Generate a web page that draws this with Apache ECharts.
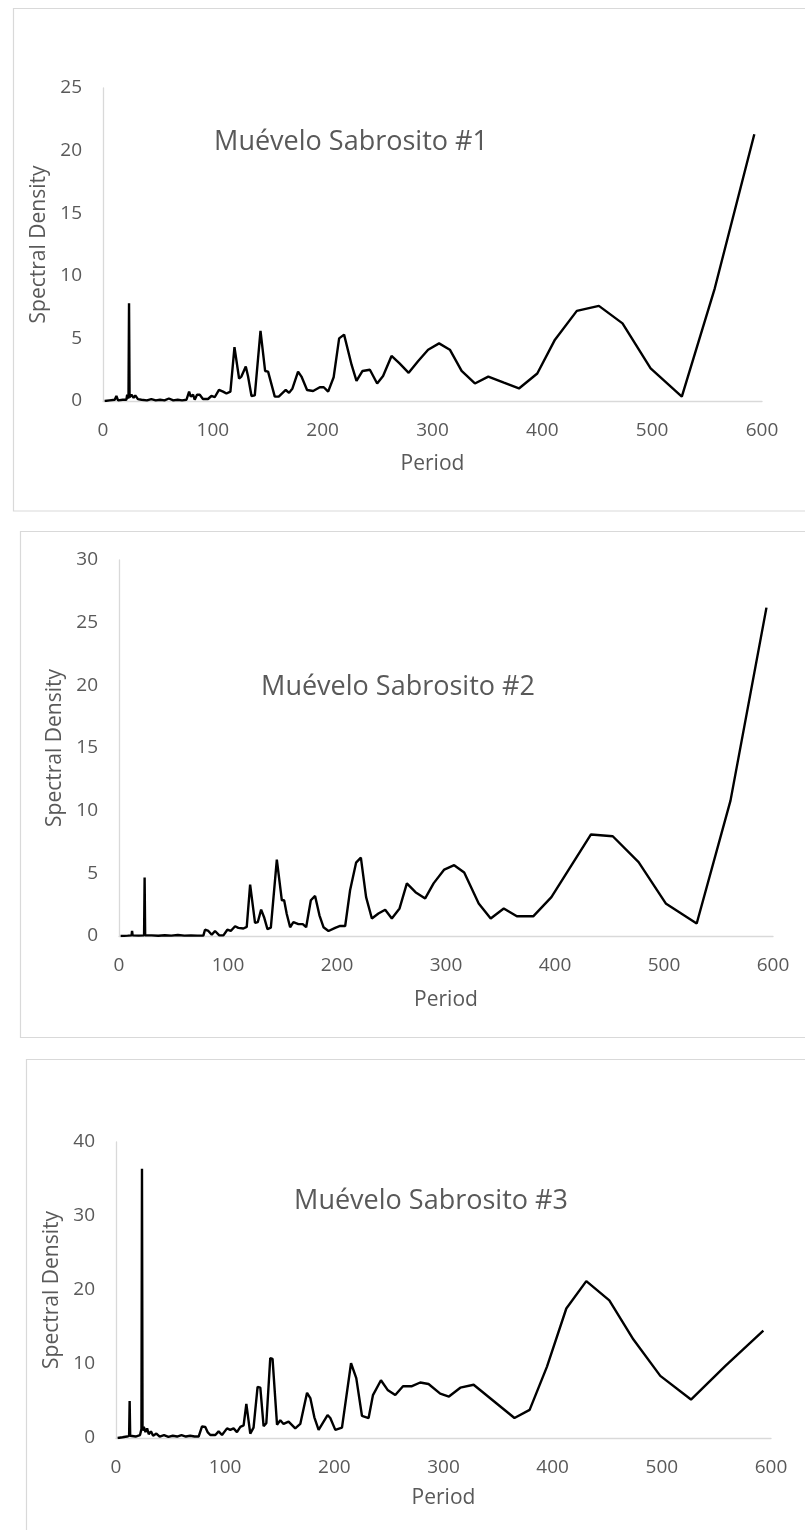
<!DOCTYPE html>
<html>
<head>
<meta charset="utf-8">
<script src="https://cdn.jsdelivr.net/npm/echarts@6/dist/echarts.min.js"></script>
<style>
html,body{margin:0;padding:0;background:#fff;}
#chart{width:805px;height:1530px;}
</style>
</head>
<body>
<div id="chart"></div>
<script>
// ---- data ----
const chartTitles = ['Muévelo Sabrosito #1', 'Muévelo Sabrosito #2', 'Muévelo Sabrosito #3'];
const xAxisTitle = 'Period';
const yAxisTitle = 'Spectral Density';
const yMax = [25, 30, 40];
const yStep = [5, 5, 10];

const p1Period = [1.5,6,10.7,12.2,13.7,18,21.3,22,23.2,23.7,24.2,25.9,27.9,29.4,31.8,35,40,44,48,52,56,60,64,68,72,76,78.4,79.9,82,83.5,85.6,88.1,91,95.6,98.7,101.7,105.6,109.3,112.4,116,119.7,123.9,126,130,132,135.2,138.2,143.4,147.6,150.3,156.4,160,166.4,169.4,172.5,177.6,180.7,185.8,191.3,197.4,201,205,210,215,219.5,226.3,230.8,236.3,243,249.6,255,262.7,270,278.3,287,296,306,315.8,326.5,338.6,350.8,365,378.7,395.4,411.5,431.4,451.5,473,498.6,527,557,593];
const p1Density = [0,0.05,0.1,0.4,0.05,0.1,0.1,0.5,0.2,7.8,0.3,0.5,0.25,0.45,0.15,0.1,0.05,0.15,0.05,0.1,0.05,0.2,0.05,0.1,0.05,0.1,0.75,0.35,0.5,0.1,0.5,0.5,0.16,0.16,0.4,0.3,0.88,0.75,0.6,0.75,4.3,1.8,1.95,2.75,2.0,0.4,0.45,5.6,2.4,2.35,0.35,0.35,0.88,0.65,1.0,2.35,1.95,0.88,0.8,1.1,1.1,0.75,1.9,5.0,5.3,2.9,1.6,2.4,2.5,1.4,2.0,3.6,3.0,2.25,3.2,4.1,4.6,4.1,2.4,1.4,1.95,1.46,1.0,2.2,4.9,7.2,7.6,6.2,2.6,0.35,9.0,21.3];

const p2Period = [1.5,8,11.5,12,12.5,18,23,23.5,24,30,36,42,48,54,60,66,72,77.4,78.9,82,85.1,88.1,92,95.8,99.4,102.5,106.5,109.5,111,114.1,117.2,120.3,124.8,127.3,130.4,133.1,136.2,139.3,144.8,149.4,151.5,153.9,157,160,164.6,168.6,171.7,176,179.9,183.9,187.6,192.2,198.3,202.9,207.5,212,217.5,221.9,226.7,232,238,244.2,250.3,257.4,264.1,272,280.9,288.6,298.4,307.5,316.7,330,341,353,365,380,396.7,433,453,476.7,501.6,530,561,594];
const p2Density = [0,0.03,0.05,0.4,0.05,0.03,0.05,4.66,0.05,0.05,0.02,0.06,0.03,0.08,0.03,0.05,0.03,0.03,0.5,0.4,0.1,0.4,0.05,0.05,0.5,0.4,0.78,0.65,0.78,0.6,0.73,4.1,1.04,1.1,2.1,1.5,0.55,0.67,6.1,2.85,2.85,1.75,0.7,1.1,0.95,0.95,0.7,2.85,3.2,1.65,0.7,0.4,0.65,0.8,0.8,3.65,5.85,6.25,3.1,1.4,1.8,2.1,1.4,2.2,4.2,3.5,3.0,4.2,5.3,5.65,5.06,2.6,1.4,2.2,1.57,1.57,3.1,8.1,7.96,5.9,2.6,1.0,10.8,26.2];

const p3Period = [1.5,6,10,12,12.5,13,18,22,23.3,23.8,24.3,25.5,27,28.5,30,32,34,37,40,44,48,52,56,60,64,68,72,75.7,78.8,81.8,83.9,86.4,91,94,97.1,101.7,104.7,107.7,110.8,113.9,116.9,119.4,123,126,129.7,132.2,135.2,137.7,141.3,143.4,147.5,150.5,153.5,158.1,164.2,168.8,175,178,181.7,185.6,193.8,196.3,200.9,207,215.3,220.1,225.3,231.4,235.4,242.7,248.8,255.8,262.9,271.1,278.7,286.3,297,305,315.4,327.6,365,378.9,394.8,412.5,430.8,451.9,474,498.6,526.7,558,593];
const p3Density = [0,0.1,0.2,0.3,5.0,0.3,0.2,0.4,1.2,36.4,1.0,1.5,0.8,1.3,0.5,0.9,0.3,0.6,0.2,0.4,0.15,0.3,0.2,0.4,0.2,0.3,0.2,0.2,1.56,1.5,0.8,0.4,0.4,0.9,0.4,1.3,1.1,1.3,0.8,1.5,1.7,4.6,0.6,1.4,6.9,6.8,1.6,2.0,10.8,10.7,1.8,2.4,1.9,2.2,1.3,1.9,6.1,5.4,2.8,1.1,3.1,2.7,1.1,1.4,10.1,8.1,3.0,2.7,5.8,7.8,6.5,5.8,7.0,7.0,7.5,7.3,6.0,5.6,6.8,7.2,2.7,3.8,9.65,17.5,21.2,18.6,13.3,8.4,5.2,9.7,14.5];

// ---- layout ----
const periods = [p1Period, p2Period, p3Period];
const densities = [p1Density, p2Density, p3Density];
const grids = [
  {left: 103, top: 88, width: 659, height: 313},
  {left: 119, top: 560, width: 654, height: 376},
  {left: 116, top: 1142, width: 655, height: 296}
];
const boxes = [
  {x: 13.5, y: 8.5, height: 502.5},
  {x: 20.5, y: 531.5, height: 506},
  {x: 26.5, y: 1059.5, height: 520}
];
const titlePos = [[351, 142], [398, 687], [431, 1201]];
const xNameGap = [53, 54, 50];
const yNameGap = [47, 47, 48];

const FONT = '"Open Sans", "Liberation Sans", sans-serif';
const GRAY = '#595959';
const AXIS = '#d9d9d9';

const chart = echarts.init(document.getElementById('chart'), null, {renderer: 'canvas'});

const option = {
  backgroundColor: '#fff',
  animation: false,
  grid: grids.map(g => Object.assign({containLabel: false}, g)),
  xAxis: grids.map((g, i) => ({
    type: 'value', gridIndex: i, min: 0, max: 600, interval: 100,
    name: xAxisTitle, nameLocation: 'middle', nameGap: xNameGap[i],
    nameTextStyle: {fontFamily: FONT, fontSize: 21, color: GRAY},
    axisLine: {show: true, onZero: false, lineStyle: {color: AXIS, width: 1.3}},
    axisTick: {show: false},
    splitLine: {show: false},
    axisLabel: {fontFamily: FONT, fontSize: 19, color: GRAY, margin: 20}
  })),
  yAxis: grids.map((g, i) => ({
    type: 'value', gridIndex: i, min: 0, max: yMax[i], interval: yStep[i],
    name: yAxisTitle, nameLocation: 'middle', nameGap: yNameGap[i],
    nameTextStyle: {fontFamily: FONT, fontSize: 21, color: GRAY},
    axisLine: {show: true, lineStyle: {color: AXIS, width: 1.3}},
    axisTick: {show: false},
    splitLine: {show: false},
    axisLabel: {fontFamily: FONT, fontSize: 19, color: GRAY, margin: 21}
  })),
  series: periods.map((p, i) => ({
    type: 'line', xAxisIndex: i, yAxisIndex: i,
    data: p.map((x, k) => [x, densities[i][k]]),
    showSymbol: false, symbol: 'none', smooth: false,
    lineStyle: {color: '#000', width: 2.4},
    itemStyle: {color: '#000'}
  })),
  graphic: boxes.map(b => ({
    type: 'rect', silent: true, z: -1,
    shape: {x: b.x, y: b.y, width: 820, height: b.height},
    style: {fill: 'none', stroke: AXIS, lineWidth: 1.2}
  })).concat(chartTitles.map((t, i) => ({
    type: 'text', silent: true,
    x: titlePos[i][0], y: titlePos[i][1],
    style: {text: t, fontFamily: FONT, fontSize: 27, fill: GRAY,
            align: 'center', verticalAlign: 'middle'}
  })))
};
chart.setOption(option);
</script>
</body>
</html>
